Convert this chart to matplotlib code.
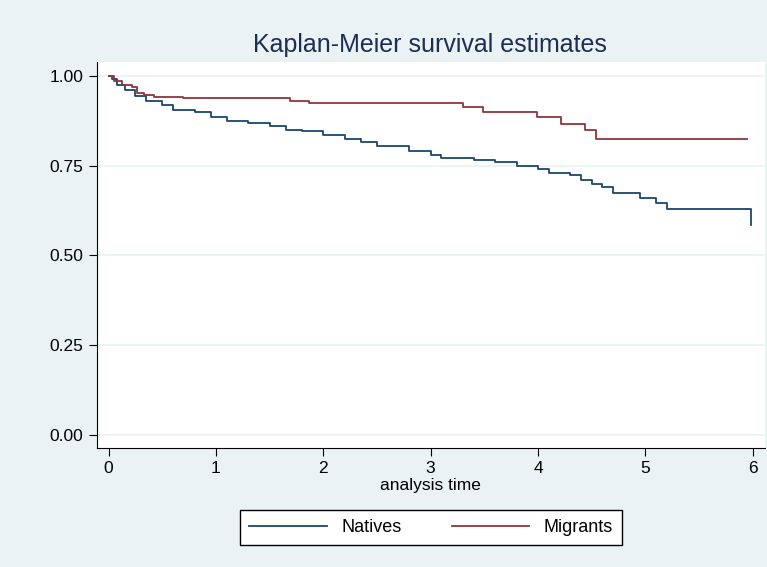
import matplotlib
matplotlib.use('Agg')
import matplotlib.pyplot as plt

plt.rcParams['font.family'] = ['Liberation Sans', 'DejaVu Sans']

# Kaplan-Meier step estimates
natives_t = [0, 0.03, 0.08, 0.15, 0.25, 0.35, 0.5, 0.6, 0.8, 0.95, 1.1, 1.3, 1.5, 1.65,
             1.8, 2.0, 2.2, 2.35, 2.5, 2.8, 3.0, 3.1, 3.4, 3.6, 3.8, 4.0, 4.1, 4.3, 4.4,
             4.5, 4.6, 4.7, 4.95, 5.1, 5.2, 5.98]
natives_s = [1.0, 0.99, 0.975, 0.96, 0.945, 0.93, 0.92, 0.905, 0.90, 0.885, 0.875, 0.87,
             0.86, 0.85, 0.845, 0.835, 0.825, 0.815, 0.805, 0.79, 0.78, 0.77, 0.765,
             0.76, 0.75, 0.74, 0.73, 0.725, 0.71, 0.70, 0.69, 0.675, 0.66, 0.645, 0.63,
             0.585]
migrants_t = [0, 0.05, 0.12, 0.22, 0.26, 0.33, 0.42, 0.69, 1.69, 1.87, 3.30, 3.49, 3.99,
              4.21, 4.44, 4.54, 5.95]
migrants_s = [1.0, 0.985, 0.975, 0.97, 0.953, 0.947, 0.942, 0.937, 0.931, 0.923, 0.913,
              0.90, 0.886, 0.867, 0.848, 0.825, 0.825]
y_ticks = [0, 0.25, 0.5, 0.75, 1.0]
x_ticks = [0, 1, 2, 3, 4, 5, 6]

navy = '#1a476f'
maroon = '#90353b'

fig = plt.figure(figsize=(7.67, 5.67), dpi=100, facecolor='#eaf2f3')
ax = fig.add_axes([0.126, 0.21, 0.871, 0.681], facecolor='white')

ax.step(natives_t, natives_s, where='post', color=navy, lw=1.3, label='Natives')
ax.step(migrants_t, migrants_s, where='post', color=maroon, lw=1.3, label='Migrants')

ax.set_xlim(-0.112, 6.112)
ax.set_ylim(-0.036, 1.039)
ax.set_yticks(y_ticks)
ax.set_yticklabels([f'{v:.2f}' for v in y_ticks], fontsize=12.5)
ax.set_xticks(x_ticks)
ax.set_xticklabels([str(v) for v in x_ticks], fontsize=12.5)
ax.tick_params(direction='out', length=6)
ax.yaxis.grid(True, color='#eaf2f3', lw=1.2)
ax.set_axisbelow(True)
for side in ['top', 'right']:
    ax.spines[side].set_visible(False)
ax.set_xlabel('analysis time', fontsize=12.5, labelpad=1)

fig.text(0.56, 0.92, 'Kaplan-Meier survival estimates', ha='center', va='center',
         fontsize=18, color='#1e2d53')

leg = fig.legend(loc='center', bbox_to_anchor=(0.562, 0.069), ncol=2, fontsize=13,
                 frameon=True, fancybox=False, edgecolor='black', facecolor='white',
                 framealpha=1, handlelength=4.3, columnspacing=2.8, borderpad=0.5)
leg.get_frame().set_linewidth(1.0)

plt.savefig('out.png', dpi=100, facecolor=fig.get_facecolor())
